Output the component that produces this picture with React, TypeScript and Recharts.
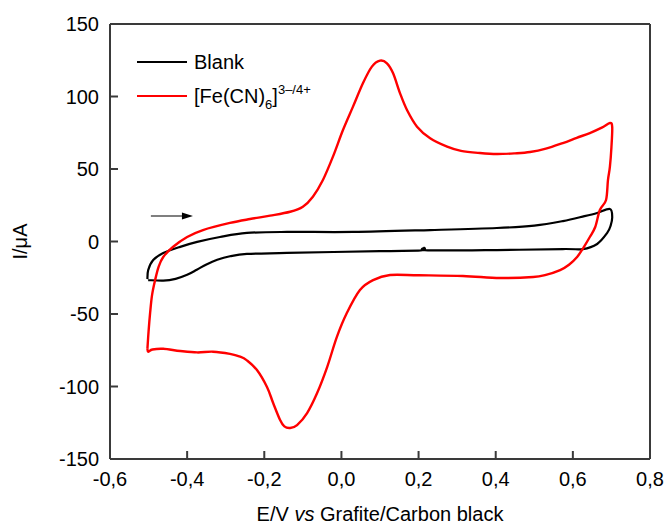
import { LineChart, Line, XAxis, YAxis, ReferenceLine, Legend } from "recharts";

// tick values
const xTicks = [-0.6, -0.4, -0.2, 0, 0.2, 0.4, 0.6, 0.8];
const yTicks = [-150, -100, -50, 0, 50, 100, 150];

// Blank scan (E in V, I in µA), in scan order
const blankE = [
  -0.503, -0.501, -0.488, -0.462, -0.418, -0.374, -0.315, -0.245, -0.141, 0.03, 0.23, 0.403, 0.5, 0.574,
  0.63, 0.663, 0.696, 0.702, 0.698, 0.689, 0.663, 0.626, 0.574, 0.403, 0.224, 0.215, 0.206, 0.1, -0.141, -0.245,
  -0.289, -0.322, -0.35, -0.375, -0.4, -0.43, -0.462, -0.501,
];
const blankI = [
  -26, -19.7, -12.8, -8, -3.7, -0.3, 3.1, 5.9, 6.6, 6.6, 7.9, 9.3, 11, 14.1,
  17.5, 19.7, 22.4, 16.9, 11, 5.9, -1.7, -5.2, -5.2, -5.9, -6.1, -4.3, -6.1, -6.6, -7.9, -8.6,
  -10.2, -12.6, -15.8, -19.5, -23, -25.8, -27, -26.6,
];

// [Fe(CN)6]3-/4+ scan
const fercE = [
  -0.503, -0.5, -0.496, -0.491, -0.483, -0.474, -0.462, -0.437, -0.4, -0.359, -0.289, -0.237, -0.185, -0.133, -0.1,
  -0.074, -0.048, -0.022, 0.004, 0.03, 0.056, 0.079, 0.1, 0.118, 0.134, 0.152, 0.17, 0.196, 0.23, 0.274, 0.31,
  0.359, 0.403, 0.45, 0.489, 0.53, 0.574, 0.61, 0.644, 0.675, 0.696, 0.702, 0.7, 0.696, 0.691, 0.686, 0.67, 0.658,
  0.644, 0.628, 0.611, 0.59, 0.567, 0.53, 0.497, 0.411, 0.315, 0.2, 0.126, 0.082, 0.048, 0.014, -0.012, -0.037,
  -0.063, -0.089, -0.115, -0.133, -0.148, -0.159, -0.177, -0.193, -0.219, -0.245, -0.263, -0.289, -0.333, -0.374,
  -0.418, -0.462, -0.49, -0.501, -0.503,
];
const fercI = [
  -74, -62, -49.3, -37, -26.6, -17.5, -10.7, -3.8, 3.1, 7.9, 12.8, 15.5, 17.8, 20.5, 24,
  30.9, 42.4, 58.5, 76.9, 93, 109.3, 120.6, 124.7, 122.9, 116, 102.2, 90.7, 79.2, 71.2, 65.4, 62.5,
  61, 60.3, 60.8, 61.7, 64, 67.9, 71.5, 74.8, 78.5, 81.7, 79, 65, 51.4, 42.4, 28.6, 21.7, 10,
  3.1, -4, -10.7, -16, -19.7, -23, -24.5, -25.2, -23.8, -23.3, -23.1, -26.6, -33.4, -49.3, -65.9, -86.6,
  -104.5, -118.3, -126.6, -128.6, -127.5, -123.1, -111.4, -100.3, -88.6, -82, -79.4, -77.5, -76, -76.5,
  -75.5, -74, -74.5, -76, -74,
];

const blank = blankE.map((x, i) => ({ x, y: blankI[i] }));
const ferc = fercE.map((x, i) => ({ x, y: fercI[i] }));

const FONT = "'Liberation Sans', Arial, sans-serif";
const AXIS = "#3a3a3a";

const fmtX = (v: number) => v.toFixed(1).replace(".", ",");

// Catmull-Rom style curve, works for loops (x not monotonic)
function smoothCurve(context: any) {
  let pts: number[][] = [];
  return {
    areaStart() {},
    areaEnd() {},
    lineStart() {
      pts = [];
    },
    lineEnd() {
      if (!pts.length) return;
      context.moveTo(pts[0][0], pts[0][1]);
      const t = 1 / 6;
      for (let i = 0; i < pts.length - 1; i++) {
        const p0 = pts[i - 1] || pts[i];
        const p1 = pts[i];
        const p2 = pts[i + 1];
        const p3 = pts[i + 2] || p2;
        context.bezierCurveTo(
          p1[0] + (p2[0] - p0[0]) * t,
          p1[1] + (p2[1] - p0[1]) * t,
          p2[0] - (p3[0] - p1[0]) * t,
          p2[1] - (p3[1] - p1[1]) * t,
          p2[0],
          p2[1]
        );
      }
    },
    point(x: number, y: number) {
      pts.push([x, y]);
    },
  };
}

function Arrow(props: any) {
  const { x1, y1, x2, y2 } = props;
  return (
    <g>
      <line x1={x1} y1={y1} x2={x2 - 8} y2={y2} stroke="#000" strokeWidth={1.2} />
      <polygon points={`${x2},${y2} ${x2 - 11},${y2 - 3.5} ${x2 - 11},${y2 + 3.5}`} fill="#000" />
    </g>
  );
}

function LegendBox() {
  const row = { display: "flex", alignItems: "center", height: 34 };
  const swatch = (c: string) => (
    <span style={{ display: "inline-block", width: 50, height: 2.5, background: c, marginRight: 7 }} />
  );
  return (
    <div style={{ fontFamily: FONT, fontSize: 20, lineHeight: 1, color: "#000" }}>
      <div style={row}>
        {swatch("#000")}
        <span>Blank</span>
      </div>
      <div style={row}>
        {swatch("#ff0000")}
        <span>
          [Fe(CN)
          <span style={{ fontSize: 13, position: "relative", top: 6 }}>6</span>]
          <span style={{ fontSize: 13, position: "relative", top: -9 }}>3–/4+</span>
        </span>
      </div>
    </div>
  );
}

export default function App() {
  return (
    <div style={{ position: "absolute", left: 0, top: 0, background: "#fff" }}>
      <LineChart width={667} height={526} margin={{ top: 24, right: 17, left: 0, bottom: 0 }}>
        <XAxis
          dataKey="x"
          type="number"
          domain={[-0.6, 0.8]}
          ticks={xTicks}
          tickFormatter={fmtX}
          allowDataOverflow
          height={67}
          stroke={AXIS}
          strokeWidth={2}
          tickSize={-8}
          tickMargin={21}
          tick={{ fill: "#000", fontSize: 20, fontFamily: FONT }}
          label={(p: any) => {
            const vb = p.viewBox;
            return (
              <text x={vb.x + vb.width / 2} y={521} textAnchor="middle" fontSize={20} fontFamily={FONT} fill="#000">
                E/V <tspan fontStyle="italic">vs</tspan> Grafite/Carbon black
              </text>
            );
          }}
        />
        <YAxis
          type="number"
          domain={[-150, 150]}
          ticks={yTicks}
          allowDataOverflow
          width={110}
          stroke={AXIS}
          strokeWidth={2}
          tickSize={-8}
          tickMargin={19}
          tick={{ fill: "#000", fontSize: 20, fontFamily: FONT }}
          label={(p: any) => {
            const vb = p.viewBox;
            const cy = vb.y + vb.height / 2;
            return (
              <text
                x={27}
                y={cy}
                transform={`rotate(-90 27 ${cy})`}
                textAnchor="middle"
                fontSize={20}
                fontFamily={FONT}
                fill="#000"
              >
                I/μA
              </text>
            );
          }}
        />
        <ReferenceLine y={150} stroke={AXIS} strokeWidth={2} />
        <ReferenceLine x={0.8} stroke={AXIS} strokeWidth={2} />
        <ReferenceLine
          segment={[
            { x: -0.494, y: 17.6 },
            { x: -0.385, y: 17.6 },
          ]}
          shape={Arrow}
        />
        <Line
          data={blank}
          dataKey="y"
          name="Blank"
          type={smoothCurve as any}
          stroke="#000"
          strokeWidth={2.2}
          dot={false}
          isAnimationActive={false}
        />
        <Line
          data={ferc}
          dataKey="y"
          name="Fe"
          type={smoothCurve as any}
          stroke="#ff0000"
          strokeWidth={2.4}
          dot={false}
          isAnimationActive={false}
        />
        <Legend
          layout="vertical"
          align="center"
          verticalAlign="middle"
          content={() => <LegendBox />}
          wrapperStyle={{ position: "absolute", left: 137, top: 45, width: "auto" }}
        />
      </LineChart>
    </div>
  );
}
